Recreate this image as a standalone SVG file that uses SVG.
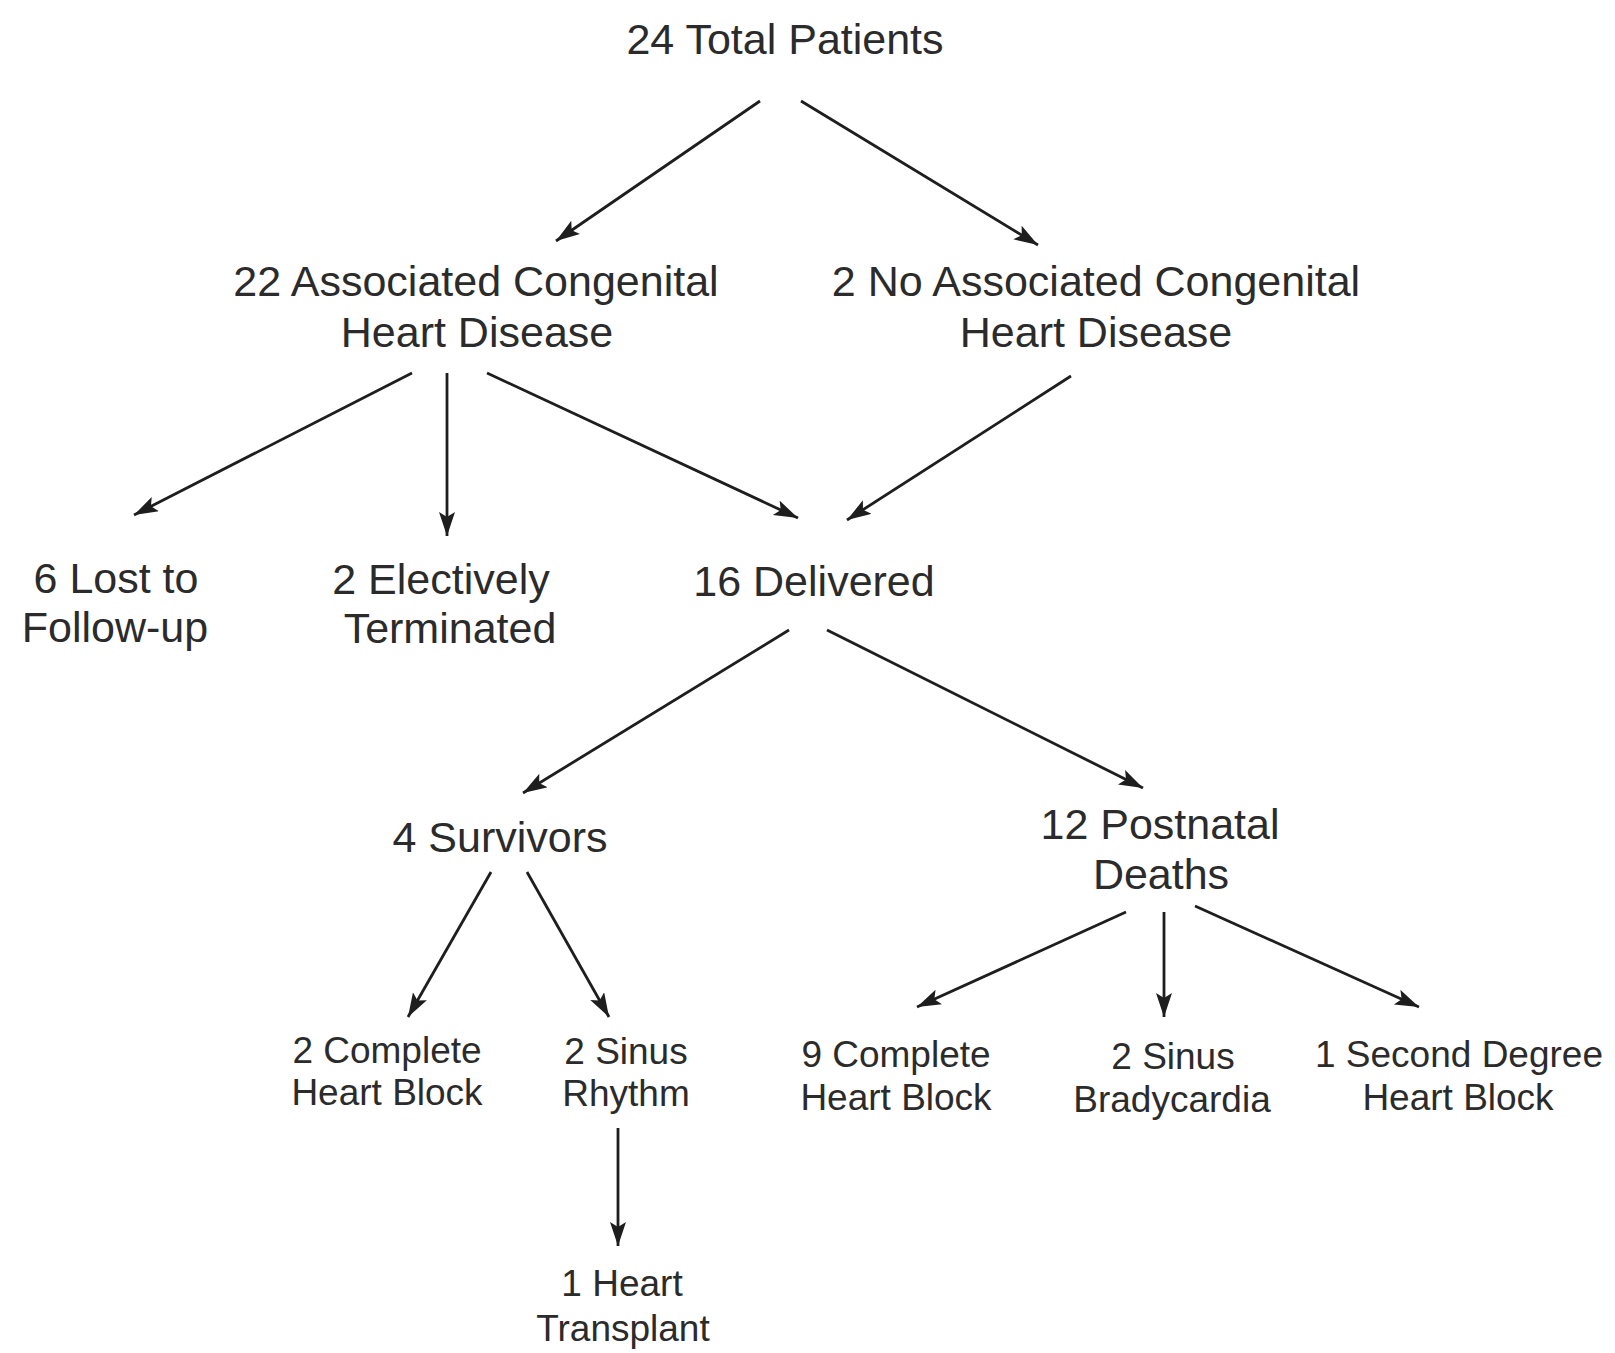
<svg xmlns="http://www.w3.org/2000/svg" width="1615" height="1353" viewBox="0 0 1615 1353">
  <style>
    .lbl { font-family: "Liberation Sans", Arial, sans-serif; fill: #2b2b2b; text-anchor: middle; }
    .big { font-size: 43px; }
    .small { font-size: 37px; }
    .edge { stroke: #1e1e1e; stroke-width: 2.8; fill: none; marker-end: url(#arrow); }
  </style>
  <defs>
    <marker id="arrow" markerUnits="userSpaceOnUse" markerWidth="26" markerHeight="18" refX="24" refY="8" orient="auto">
      <path d="M0,0 L24,8 L0,16 L5,8 z" fill="#1e1e1e"/>
    </marker>
  </defs>
  <rect width="1615" height="1353" fill="#ffffff"/>

  <g id="connectors">
    <line class="edge" x1="760" y1="101" x2="556" y2="241"/>
    <line class="edge" x1="801" y1="101" x2="1038" y2="245"/>
    <line class="edge" x1="412" y1="373" x2="134" y2="515"/>
    <line class="edge" x1="447" y1="373" x2="447" y2="536"/>
    <line class="edge" x1="487" y1="373" x2="798" y2="518"/>
    <line class="edge" x1="1071" y1="376" x2="847" y2="520"/>
    <line class="edge" x1="789" y1="630" x2="523" y2="793"/>
    <line class="edge" x1="827" y1="630" x2="1143" y2="788"/>
    <line class="edge" x1="491" y1="872" x2="408" y2="1017"/>
    <line class="edge" x1="527" y1="872" x2="609" y2="1017"/>
    <line class="edge" x1="1126" y1="912" x2="917" y2="1007"/>
    <line class="edge" x1="1164" y1="912" x2="1164" y2="1017"/>
    <line class="edge" x1="1195" y1="906" x2="1419" y2="1007"/>
    <line class="edge" x1="618" y1="1128" x2="618" y2="1246"/>
  </g>

  <g id="total">
    <text class="lbl big" x="785" y="54">24 Total Patients</text>
  </g>
  <g id="associated">
    <text class="lbl big" x="476" y="296">22 Associated Congenital</text>
    <text class="lbl big" x="477" y="347">Heart Disease</text>
  </g>
  <g id="no-associated">
    <text class="lbl big" x="1096" y="296">2 No Associated Congenital</text>
    <text class="lbl big" x="1096" y="347">Heart Disease</text>
  </g>
  <g id="lost">
    <text class="lbl big" x="116" y="593">6 Lost to</text>
    <text class="lbl big" x="115" y="642">Follow-up</text>
  </g>
  <g id="terminated">
    <text class="lbl big" x="441" y="594">2 Electively</text>
    <text class="lbl big" x="450" y="643">Terminated</text>
  </g>
  <g id="delivered">
    <text class="lbl big" x="814" y="596">16 Delivered</text>
  </g>
  <g id="survivors">
    <text class="lbl big" x="500" y="852">4 Survivors</text>
  </g>
  <g id="postnatal-deaths">
    <text class="lbl big" x="1160" y="839">12 Postnatal</text>
    <text class="lbl big" x="1161" y="889">Deaths</text>
  </g>
  <g id="surv-chb">
    <text class="lbl small" x="387" y="1063">2 Complete</text>
    <text class="lbl small" x="387" y="1105">Heart Block</text>
  </g>
  <g id="surv-sinus">
    <text class="lbl small" x="626" y="1064">2 Sinus</text>
    <text class="lbl small" x="626" y="1106">Rhythm</text>
  </g>
  <g id="transplant">
    <text class="lbl small" x="622" y="1296">1 Heart</text>
    <text class="lbl small" x="623" y="1341">Transplant</text>
  </g>
  <g id="death-chb">
    <text class="lbl small" x="896" y="1067">9 Complete</text>
    <text class="lbl small" x="896" y="1110">Heart Block</text>
  </g>
  <g id="death-brady">
    <text class="lbl small" x="1173" y="1069">2 Sinus</text>
    <text class="lbl small" x="1172" y="1112">Bradycardia</text>
  </g>
  <g id="death-second">
    <text class="lbl small" x="1459" y="1067">1 Second Degree</text>
    <text class="lbl small" x="1458" y="1110">Heart Block</text>
  </g>
</svg>
